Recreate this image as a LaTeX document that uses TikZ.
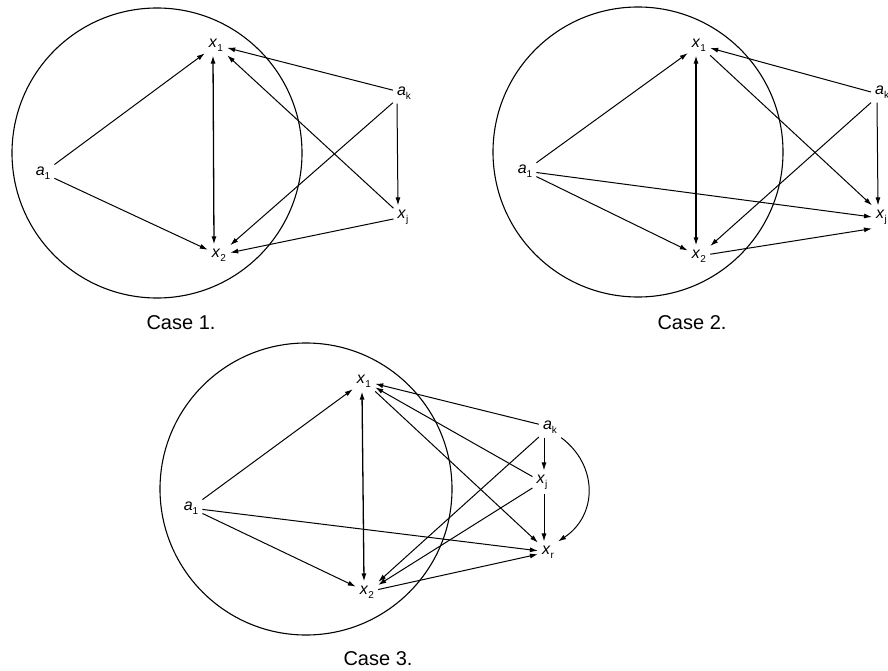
\documentclass[tikz,border=0pt]{standalone}
\usepackage{fontspec}
\setmainfont{Liberation Sans}
\usetikzlibrary{arrows.meta}
\newcommand\vlab[2]{\textit{#1}\raisebox{-0.5ex}{\fontsize{10}{10}\selectfont #2}}
\tikzset{
  lab/.style={font=\fontsize{16}{16}\selectfont, inner sep=4pt},
  arr/.style={line width=1pt, -{Latex[length=8pt,width=5pt]}},
  dbl/.style={line width=1.3pt, {Latex[length=8pt,width=5pt]}-{Latex[length=8pt,width=5pt]}},
  ring/.style={line width=1.1pt},
  captext/.style={font=\fontsize{20}{20}\selectfont, inner sep=0pt}
}
\begin{document}
\begin{tikzpicture}[x=1pt,y=-1pt]
\useasboundingbox (0,0) rectangle (888,671);
% ---------- Case 1 ----------
\draw[ring] (157,153) circle[radius=145pt];
\node[lab] (Ax1) at (216,45) {\vlab{x}{1}};
\node[lab] (Ax2) at (219,255) {\vlab{x}{2}};
\node[lab] (Aa1) at (43,173) {\vlab{a}{1}};
\node[lab] (Aak) at (404,93) {\vlab{a}{k}};
\node[lab] (Axj) at (403,217) {\vlab{x}{j}};
\node[captext] (Acap) at (181,323) {Case 1.};
\draw[arr] (Aa1) -- (Ax1);
\draw[arr] (Aa1) -- (Ax2);
\draw[dbl] ([xshift=-3pt]Ax1.south) -- ([xshift=-5pt]Ax2.north);
\draw[arr] (Aak) -- (Ax1);
\draw[arr] (Aak) -- (Ax2);
\draw[arr] ([xshift=-7pt]Aak.south) -- ([xshift=-5pt]Axj.north);
\draw[arr] (Axj) -- (Ax1);
\draw[arr] (Axj) -- (Ax2);
% ---------- Case 2 ----------
\draw[ring] (638,152) circle[radius=145pt];
\node[lab] (Bx1) at (699,45) {\vlab{x}{1}};
\node[lab] (Bx2) at (699,256) {\vlab{x}{2}};
\node[lab] (Ba1) at (525,171) {\vlab{a}{1}};
\node[lab, anchor=west] (Bak) at (871,92) {\vlab{a}{k}};
\node[lab, anchor=west] (Bxj) at (872,217) {\vlab{x}{j}};
\node[captext] (Bcap) at (692,323) {Case 2.};
\draw[arr] (Ba1) -- (Bx1);
\draw[arr] (Ba1) -- (Bx2);
\draw[arr] (Ba1) -- (Bxj.west);
\draw[dbl] ([xshift=-3pt]Bx1.south) -- ([xshift=-3pt]Bx2.north);
\draw[arr] (Bx1) -- (Bxj.north west);
\draw[arr] (Bak.west) -- (Bx1);
\draw[arr] (Bak.south west) -- (Bx2);
\draw[arr] ([xshift=6pt]Bak.south west) -- ([xshift=6pt]Bxj.north west);
\draw[arr] (Bx2) -- (Bxj.south west);
% ---------- Case 3 ----------
\draw[ring] (306,489) circle[radius=146pt];
\node[lab] (Cx1) at (364,381) {\vlab{x}{1}};
\node[lab] (Cx2) at (367,592) {\vlab{x}{2}};
\node[lab] (Ca1) at (191,508) {\vlab{a}{1}};
\node[lab] (Cak) at (550,427) {\vlab{a}{k}};
\node[lab] (Cxj) at (542,482) {\vlab{x}{j}};
\node[lab] (Cxr) at (548,552) {\vlab{x}{r}};
\node[captext] (Ccap) at (378,659) {Case 3.};
\draw[arr] (Ca1) -- (Cx1);
\draw[arr] (Ca1) -- (Cx2);
\draw[arr] (Ca1) -- (Cxr);
\draw[dbl] ([xshift=-2pt]Cx1.south) -- ([xshift=-3pt]Cx2.north);
\draw[arr] (Cx1) -- (Cxr);
\draw[arr] (Cak) -- (Cx1);
\draw[arr] (Cak) -- (Cx2);
\draw[arr] ([xshift=-6pt]Cak.south) -- ([xshift=2pt]Cxj.north);
\draw[arr] (Cak.south east) .. controls (598,465) and (598,515) .. (Cxr.north east);
\draw[arr] (Cxj) -- (Cx1);
\draw[arr] (Cxj) -- (Cx2);
\draw[arr] ([xshift=2pt]Cxj.south) -- ([xshift=-4pt]Cxr.north);
\draw[arr] (Cx2) -- (Cxr);
\end{tikzpicture}
\end{document}
